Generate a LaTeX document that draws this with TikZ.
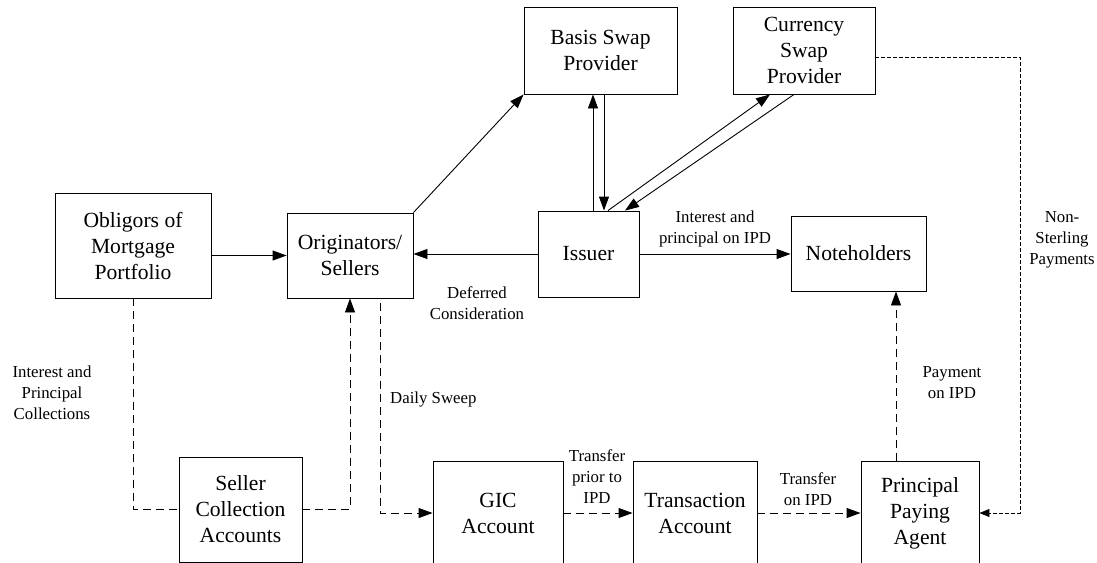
\documentclass[tikz,border=0pt]{standalone}
\usepackage{fontspec}
\setmainfont{Liberation Serif}
\usetikzlibrary{arrows.meta}
\tikzset{
	box/.style={draw,line width=.9pt,inner sep=0pt,align=center,font=\fontsize{21.6}{26}\selectfont},
	lab/.style={inner sep=0pt,align=center,font=\fontsize{16.8}{21}\selectfont},
	arr/.style={line width=.9pt,-{Triangle[length=14pt,width=10pt]}},
	dsh/.style={arr,dash pattern=on 8pt off 5pt},
}
\begin{document}
\begin{tikzpicture}[x=1pt,y=-1pt]
		\useasboundingbox (0,0) rectangle (1097,562);
		\clip (0,0) rectangle (1097,562);
		\node[box,minimum width=156pt,minimum height=105pt] (obligors) at (133,245.5) {Obligors of\\Mortgage\\Portfolio};
		\node[box,minimum width=126pt,minimum height=85pt] (originators) at (350,255.5) {Originators/\\Sellers};
		\node[box,minimum width=101pt,minimum height=86pt] (issuer) at (588.5,254) {Issuer};
		\node[box,minimum width=153pt,minimum height=87pt] (basis) at (600.5,50.5) {Basis Swap\\Provider};
		\node[box,minimum width=142pt,minimum height=87pt] (currency) at (804,50.5) {Currency\\Swap\\Provider};
		\node[box,minimum width=135pt,minimum height=75pt] (noteholders) at (858.5,253.5) {Noteholders};
		\node[box,minimum width=123pt,minimum height=105pt] (seller) at (240.5,509.5) {Seller\\Collection\\Accounts};
		\node[box,minimum width=130pt,minimum height=104pt] (gic) at (498,513) {GIC\\Account};
		\node[box,minimum width=124pt,minimum height=104pt] (transaction) at (695,513) {Transaction\\Account};
		\node[box,minimum width=118pt,minimum height=104pt] (principal) at (920,513) {Principal\\Paying\\Agent};
		\node[lab] (collections) at (52,393) {Interest and\\Principal\\Collections};
		\node[lab,anchor=west] (sweep) at (390,399) {Daily Sweep};
		\node[lab] (deferred) at (477,303) {Deferred\\Consideration};
		\node[lab] (intipd) at (715,228.5) {Interest and\\principal on IPD};
		\node[lab] (prior) at (597,477) {Transfer\\prior to\\IPD};
		\node[lab] (onipd) at (808,489) {Transfer\\on IPD};
		\node[lab] (payment) at (952,382.5) {Payment\\on IPD};
		\node[lab] (nonsterling) at (1062,240) {Non-\\Sterling\\Payments};
		\draw[arr] (obligors.east |- originators.center) -- (originators.west);
		\draw[arr] (originators.north east) -- (basis.south west);
		\draw[arr] (issuer.west) -- (issuer.west -| originators.east);
		\draw[arr] (issuer.east) -- (issuer.east -| noteholders.west);
		\draw[arr] ([xshift=4.5pt]issuer.north) -- ([xshift=4.5pt]issuer.north |- basis.south);
		\draw[arr] ([xshift=15.5pt]issuer.north |- basis.south) -- ([xshift=15.5pt]issuer.north);
		\draw[arr] ([xshift=19.5pt]issuer.north) -- ([xshift=-34pt]currency.south);
		\draw[arr] ([xshift=-10pt]currency.south) -- ([xshift=36.5pt]issuer.north);
		\draw[dsh,-] (obligors.south) |- (seller.west);
		\draw[dsh] (seller.east) -| (originators.south);
		\draw[dsh] ([xshift=30pt,yshift=-5pt]originators.south) |- (gic.west);
		\draw[dsh] (gic.east) -- (transaction.west);
		\draw[dsh] (transaction.east) -- (principal.west);
		\draw[dsh] ([xshift=-24pt]principal.north) -- ([xshift=-24pt]principal.north |- noteholders.south);
		\draw[line width=.8pt,dash pattern=on 4pt off 2pt,-{Triangle[length=10pt,width=8pt]}] ([yshift=-6.5pt]currency.east) -- ++(145,0) |- (principal.east);
	\end{tikzpicture}
\end{document}
